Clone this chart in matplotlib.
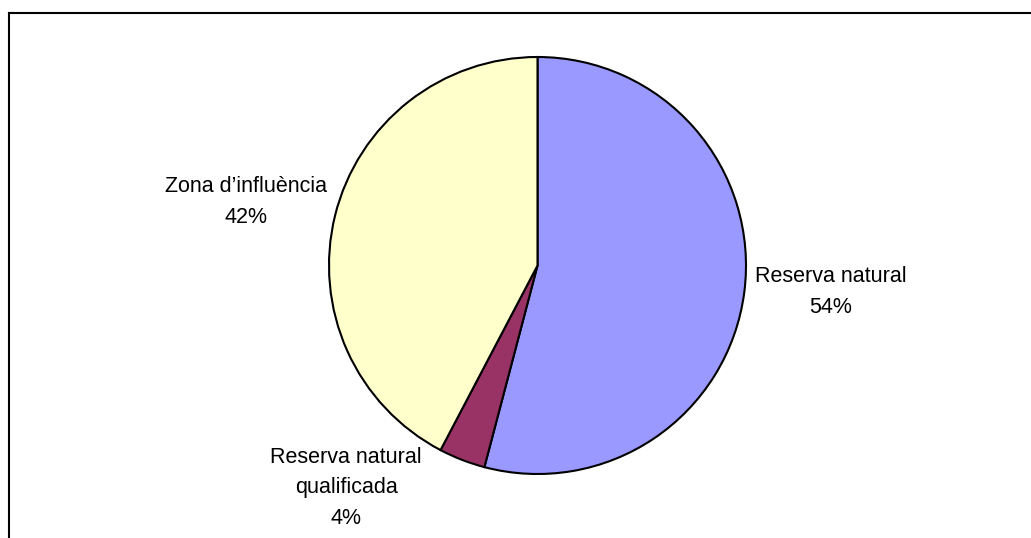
import matplotlib
matplotlib.use("Agg")
import matplotlib.pyplot as plt
from matplotlib.lines import Line2D

labels = ["Reserva natural", "Reserva natural\nqualificada", "Zona d\u2019influ\u00e8ncia"]
values = [54.1, 3.6, 42.3]
colors = ["#9999FF", "#993366", "#FFFFCC"]

W, H = 1031, 538
fig = plt.figure(figsize=(W / 100, H / 100), dpi=100)
ax = fig.add_axes([0, 0, 1, 1])
plt.rcParams['font.family'] = ['Liberation Sans', 'DejaVu Sans']

cx, cy, r = 537.5, H - 265.5, 208.5
ax.pie(values, colors=colors, startangle=90, counterclock=False,
       center=(cx, cy), radius=r, frame=True,
       wedgeprops=dict(edgecolor="black", linewidth=1.5))
ax.set_xlim(0, W)
ax.set_ylim(0, H)
ax.set_aspect("equal")
ax.axis("off")

# label positions (pixel coords, from top)
pos = [(831, 292), (346, 488), (246, 202)]
for lab, v, (x, y) in zip(labels, values, pos):
    ax.text(x, H - y, f"{lab}\n{v:.0f}%", ha="center", va="center",
            fontsize=15.5, linespacing=1.6, family=["Liberation Sans", "DejaVu Sans"])

# chart border (top and left visible)
fig.add_artist(Line2D([9 / W, 1], [1 - 13 / H, 1 - 13 / H], color="black", lw=1.5))
fig.add_artist(Line2D([9 / W, 9 / W], [0, 1 - 13 / H], color="black", lw=1.5))

fig.savefig("out.png", dpi=100)
